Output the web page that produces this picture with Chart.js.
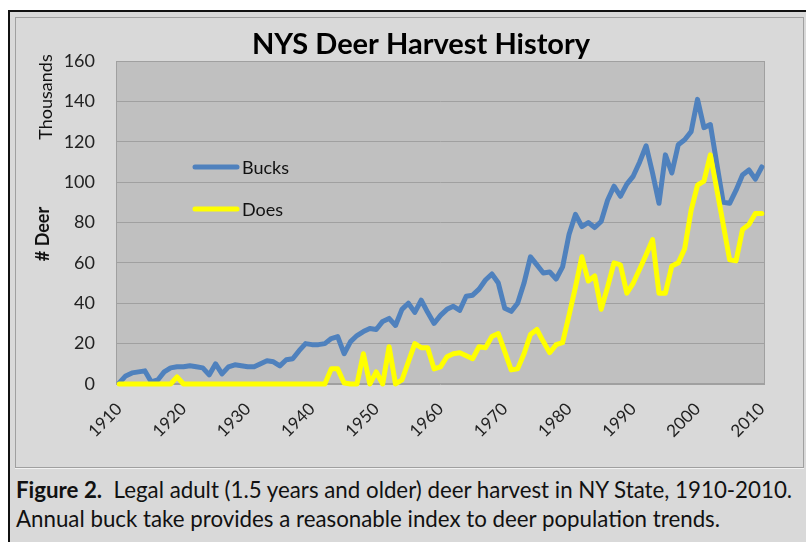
<!DOCTYPE html>
<html>
<head>
<meta charset="utf-8">
<script src="https://cdn.jsdelivr.net/npm/chart.js@4.4.1/dist/chart.umd.min.js"></script>
<style>
  html, body { margin: 0; padding: 0; width: 806px; height: 542px; overflow: hidden; background: #fff; font-family: Lato, sans-serif; }
  #frame { position: absolute; left: 8px; top: 10px; width: 820px; height: 560px; border: 2px solid #111; background: #d9d9d9; box-sizing: border-box; }
  #panel { position: absolute; left: 15px; top: 17px; width: 789px; height: 451px; background: #d9d9d9; border: 1px solid #a0a0a0; box-shadow: 0 1px 0 #f2f2f2; box-sizing: border-box; }
  #chartBox { position: absolute; left: 30px; top: 17px; width: 776px; height: 450px; }
  .cap { position: absolute; left: 16px; font-size: 22.3px; line-height: 22px; color: #111; white-space: nowrap; }
</style>
</head>
<body>
<div id="frame"></div>
<div id="panel"></div>
<div id="chartBox"><canvas id="deerChart" width="776" height="450"></canvas></div>
<div class="cap" style="top:479px"><b>Figure 2.</b>&nbsp; Legal adult (1.5 years and older) deer harvest in NY State, 1910-2010.</div>
<div class="cap" style="top:508px">Annual buck take provides a reasonable index to deer population trends.</div>

<script>
// harvest in thousands, one value per year 1910..2010
const firstYear = 1910;
const lastYear = 2010;
const decadeLabels = [1910, 1920, 1930, 1940, 1950, 1960, 1970, 1980, 1990, 2000, 2010];
const chartTitle = "NYS Deer Harvest History";

const bucks = [
    0.5, 4, 5.5, 6, 6.5, 1, 2, 6, 8, 8.5,            // 1910s
    8.5, 9, 8.5, 8, 4.5, 10, 5, 8.5, 9.5, 9,         // 1920s
    8.5, 8.5, 10, 11.5, 11, 9, 12, 12.5, 16.5, 20,   // 1930s
    19.5, 19.5, 20, 22.5, 23.5, 15, 21, 24, 26, 27.5, // 1940s
    27, 31, 32.5, 29, 37, 40, 35.5, 41.5, 35.5, 30,  // 1950s
    34, 37, 38.5, 36.5, 43.5, 44, 47, 51.5, 54.5, 50, // 1960s
    37.5, 36, 40, 50, 63, 59, 55, 55.5, 52, 58,      // 1970s
    74, 84, 78, 80, 77.5, 80.5, 91, 98, 93, 99,      // 1980s
    103, 110, 118, 104.5, 89.5, 113.5, 104.5, 118.5, 121, 125, // 1990s
    141, 127, 128.5, 109, 90, 89.5, 96, 103.5, 106, 101.5,     // 2000s
    107.5                                            // 2010
];

const does = [
    0, 0, 0, 0, 0, 0, 0, 0, 0, 3.5,                  // 1910s
    0, 0, 0, 0, 0, 0, 0, 0, 0, 0,                    // 1920s
    0, 0, 0, 0, 0, 0, 0, 0, 0, 0,                    // 1930s
    0, 0, 0, 7.5, 7.5, 0.5, 0, 0, 15, 0,             // 1940s
    6, 0, 18.5, 0, 2, 11, 20, 18, 18, 7.5,           // 1950s
    8.5, 13.5, 15, 15.5, 14, 12.5, 18.5, 18, 23.5, 25, // 1960s
    16, 7, 7.5, 15, 24.5, 27, 21, 15.5, 19.5, 20.5,  // 1970s
    34, 48, 63, 51, 53.5, 37, 48, 60, 59, 45,        // 1980s
    50, 57, 64, 71.5, 45, 45, 58.5, 60, 67, 86,      // 1990s
    98.5, 100.5, 113.5, 96.5, 79, 61.5, 61, 76.5, 79, 84.5, // 2000s
    84.5                                             // 2010
];

var years = [];
for (var y = firstYear; y <= lastYear; y++) {
    years.push(y);
}

const FONT = "Lato";

// grey plot area with a thin border, like the spreadsheet chart
const plotBackground = {
    id: "plotBackground",
    beforeDraw(chart) {
        const { ctx, chartArea: a } = chart;
        ctx.save();
        ctx.fillStyle = "#c0c0c0";
        ctx.fillRect(a.left, a.top, a.right - a.left, a.bottom - a.top);
        ctx.restore();
    },
    beforeDatasetsDraw(chart) {
        const { ctx, chartArea: a } = chart;
        ctx.save();
        ctx.strokeStyle = "#a0a0a0";
        ctx.lineWidth = 1;
        ctx.strokeRect(a.left + 0.5, a.top + 0.5, a.right - a.left - 1, a.bottom - a.top - 1);
        ctx.restore();
    }
};

// title, the two axis captions and the legend sitting inside the plot
const extraText = {
    id: "extraText",
    afterDraw(chart) {
        const { ctx, chartArea: a } = chart;
        ctx.save();
        ctx.fillStyle = "#000";
        ctx.textAlign = "center";
        ctx.textBaseline = "middle";
        ctx.font = "bold 29px " + FONT;
        ctx.fillText(chartTitle, 391, 28);

        ctx.fillStyle = "#111";
        ctx.save();
        ctx.translate(16, 80);
        ctx.rotate(-Math.PI / 2);
        ctx.font = "18px " + FONT;
        ctx.fillText("Thousands", 0, 0);
        ctx.restore();

        ctx.save();
        ctx.translate(13, 217);
        ctx.rotate(-Math.PI / 2);
        ctx.font = "bold 18px " + FONT;
        ctx.fillText("# Deer", 0, 0);
        ctx.restore();

        const items = chart.data.datasets;
        ctx.lineCap = "round";
        ctx.lineWidth = 5;
        ctx.textAlign = "left";
        ctx.font = "18px " + FONT;
        items.forEach(function (ds, i) {
            const ly = a.top + 106 + i * 42;
            ctx.strokeStyle = ds.borderColor;
            ctx.beginPath();
            ctx.moveTo(a.left + 79, ly);
            ctx.lineTo(a.left + 121, ly);
            ctx.stroke();
            ctx.fillStyle = "#111";
            ctx.fillText(ds.label, a.left + 126, ly + 1);
        });
        ctx.restore();
    }
};

const data = {
    labels: years,
    datasets: [
        {
            label: "Bucks",
            data: bucks,
            borderColor: "#4f81bd",
            borderWidth: 5,
            pointRadius: 0,
            tension: 0,
            borderJoinStyle: "round",
            borderCapStyle: "round",
            clip: 6,
            order: 1,
        },
        {
            label: "Does",
            data: does,
            borderColor: "#ffff00",
            borderWidth: 5,
            pointRadius: 0,
            tension: 0,
            borderJoinStyle: "round",
            borderCapStyle: "round",
            clip: 6,
            order: 0,
        },
    ],
};

const config = {
    type: "line",
    data,
    options: {
        responsive: false,
        animation: false,
        // top padding leaves room for the title drawn by extraText
        layout: { padding: { left: 0, right: 41, top: 44, bottom: 0 } },
        plugins: {
            legend: { display: false },
            tooltip: { enabled: false },
            title: { display: false },
        },
        scales: {
            x: {
                type: "category",
                offset: true,
                grid: { display: false, drawTicks: false },
                border: { display: false },
                ticks: {
                    autoSkip: false,
                    minRotation: 45,
                    maxRotation: 45,
                    padding: 15,
                    color: "#222",
                    font: { family: FONT, size: 17 },
                    callback: function (value, index) {
                        const yr = years[index];
                        return decadeLabels.indexOf(yr) >= 0 ? String(yr) : "";
                    },
                },
                afterFit: function (scale) {
                    scale.height = 83;
                },
            },
            y: {
                min: 0,
                max: 160,
                grid: { color: "#a0a0a0", lineWidth: 1, drawTicks: false },
                border: { display: false },
                ticks: {
                    stepSize: 20,
                    padding: 21,
                    color: "#222",
                    font: { family: FONT, size: 18 },
                },
                afterFit: function (scale) {
                    scale.width = 86;
                },
            },
        },
    },
    plugins: [plotBackground, extraText],
};

var deerChart = new Chart(document.getElementById("deerChart"), config);
</script>
</body>
</html>
